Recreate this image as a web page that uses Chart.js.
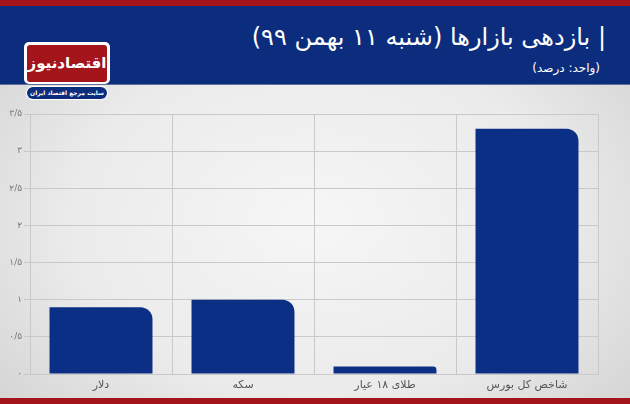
<!DOCTYPE html>
<html>
<head>
<meta charset="utf-8">
<script src="https://cdn.jsdelivr.net/npm/chart.js@4/dist/chart.umd.min.js"></script>
<style>
    html, body { margin: 0; padding: 0; }
    body { width: 630px; height: 404px; overflow: hidden; font-family: "DejaVu Sans", sans-serif; }
    #page {
        position: relative; width: 630px; height: 404px;
        background: radial-gradient(ellipse at 50% 55%, #f6f6f6 0%, #ebebeb 55%, #cfcfcf 100%);
    }
    #topband { position: absolute; left: 0; top: 0; width: 630px; height: 6px; background: #a3141b; }
    #header { position: absolute; left: 0; top: 6px; width: 630px; height: 78px; background: #0c2d7d; border-bottom: 1px solid #5d6f9c; }
    #title { position: absolute; right: 24px; top: 17px; color: #fff; font-size: 24px; direction: rtl; white-space: nowrap; }
    #subtitle { position: absolute; right: 30px; top: 55px; color: #fff; font-size: 12px; direction: rtl; white-space: nowrap; }
    #logo { position: absolute; left: 24px; top: 42px; width: 86px; height: 42px; background: #fff; border-radius: 5px; }
    #logo-red { position: absolute; left: 3px; top: 3px; width: 80px; height: 37px; background: #a3141b; border-radius: 3px;
        color: #fff; font-size: 15px; font-weight: bold; text-align: center; line-height: 36px; direction: rtl; white-space: nowrap; }
    #pill { position: absolute; left: 27px; top: 87px; width: 80px; height: 12px; background: #0c2d7d; border-radius: 6px;
        color: #fff; font-size: 6px; font-weight: bold; text-align: center; line-height: 12px; direction: rtl; white-space: nowrap;
        box-shadow: 0 0 0 1px #fff; }
    #bottomband { position: absolute; left: 0; top: 398px; width: 630px; height: 6px; background: #a3141b; }
    #chartbox { position: absolute; left: 0; top: 104px; width: 630px; height: 294px; }
</style>
</head>
<body>
<div id="page">
    <div id="topband"></div>
    <div id="header">
        <div id="title">| بازدهی بازارها (شنبه ۱۱ بهمن ۹۹)</div>
        <div id="subtitle">(واحد: درصد)</div>
    </div>
    <div id="logo"><div id="logo-red">اقتصادنیوز</div></div>
    <div id="pill">سایت مرجع اقتصاد ایران</div>
    <div id="chartbox"><canvas id="marketChart"></canvas></div>
    <div id="bottomband"></div>
</div>
<script>
// Chart data
const categories = ['دلار', 'سکه', 'طلای ۱۸ عیار', 'شاخص کل بورس'];
const returns = [0.9, 1.0, 0.1, 3.3];
const yTicks = [0, 0.5, 1, 1.5, 2, 2.5, 3, 3.5];

// Persian digits for tick labels
function toPersian(value) {
    const digits = '۰۱۲۳۴۵۶۷۸۹';
    return String(value).replace(/[0-9]/g, d => digits[d]).replace('.', '/');
}

document.addEventListener('DOMContentLoaded', () => {
    const ctx = document.getElementById('marketChart');

    new Chart(ctx.getContext('2d'), {
        type: 'bar',
        data: {
            labels: categories,
            datasets: [{
                data: returns,
                backgroundColor: '#0a2f85',
                borderWidth: 0,
                borderSkipped: false,
                borderRadius: { topLeft: 0, topRight: 12, bottomLeft: 0, bottomRight: 0 },
                categoryPercentage: 0.725,
                barPercentage: 1
            }]
        },
        options: {
            responsive: true,
            maintainAspectRatio: false,
            animation: false,
            layout: { padding: { top: 10, right: 32, left: 0, bottom: 0 } },
            plugins: {
                legend: { display: false },
                tooltip: { enabled: false }
            },
            scales: {
                x: {
                    grid: { color: '#c9c9c9', offset: true, drawTicks: false },
                    border: { color: '#c9c9c9' },
                    ticks: { color: '#555', font: { family: 'DejaVu Sans', size: 11 }, padding: 5 },
                    afterFit: scale => { scale.height = 24; }
                },
                y: {
                    min: 0,
                    max: 3.5,
                    grid: { color: '#c9c9c9', drawTicks: true, tickLength: 6, tickColor: '#c9c9c9' },
                    border: { color: '#c9c9c9' },
                    afterBuildTicks: scale => { scale.ticks = yTicks.map(v => ({ value: v })); },
                    ticks: {
                        color: '#777',
                        font: { family: 'DejaVu Sans', size: 9 },
                        padding: 2,
                        callback: value => toPersian(value)
                    },
                    afterFit: scale => { scale.width = 30; }
                }
            }
        }
    });
});
</script>
</body>
</html>
